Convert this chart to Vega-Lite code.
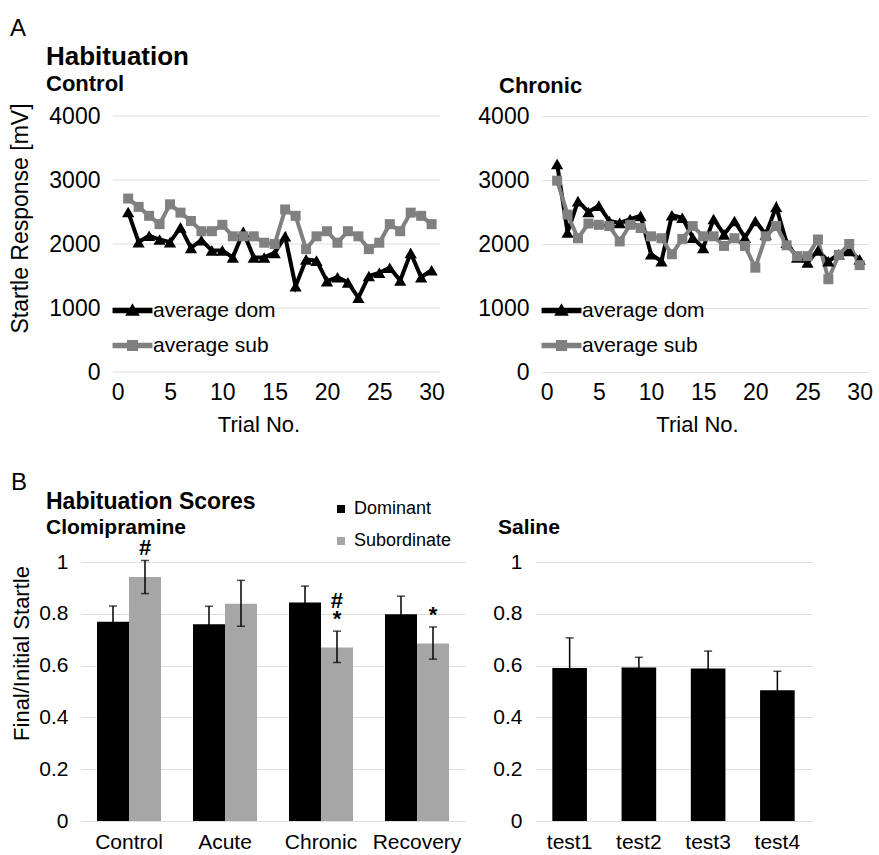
{
  "$schema": "https://vega.github.io/schema/vega-lite/v6.json",
  "background": "white",
  "padding": {"left": 9, "top": 16, "right": 5, "bottom": 5},
  "config": {
    "font": "Liberation Sans",
    "view": {"stroke": null},
    "axis": {
      "labelFont": "Liberation Sans",
      "titleFont": "Liberation Sans",
      "labelColor": "#000",
      "titleColor": "#000",
      "titleFontWeight": "normal",
      "domain": false,
      "ticks": false,
      "gridColor": "#dedede",
      "gridWidth": 1
    },
    "title": {"font": "Liberation Sans", "color": "#000", "subtitleColor": "#000", "subtitleFont": "Liberation Sans", "anchor": "start"},
    "legend": {"labelFont": "Liberation Sans", "labelColor": "#000"}
  },
  "datasets": {
    "gridlines": [{"g": 0}, {"g": 1000}, {"g": 2000}, {"g": 3000}, {"g": 4000}],
    "control": [
      {"trial": 1, "series": "average dom", "value": 2500}, {"trial": 2, "series": "average dom", "value": 2030},
      {"trial": 3, "series": "average dom", "value": 2130}, {"trial": 4, "series": "average dom", "value": 2070},
      {"trial": 5, "series": "average dom", "value": 2030}, {"trial": 6, "series": "average dom", "value": 2260},
      {"trial": 7, "series": "average dom", "value": 1940}, {"trial": 8, "series": "average dom", "value": 2060},
      {"trial": 9, "series": "average dom", "value": 1900}, {"trial": 10, "series": "average dom", "value": 1900},
      {"trial": 11, "series": "average dom", "value": 1790}, {"trial": 12, "series": "average dom", "value": 2190},
      {"trial": 13, "series": "average dom", "value": 1790}, {"trial": 14, "series": "average dom", "value": 1790},
      {"trial": 15, "series": "average dom", "value": 1860}, {"trial": 16, "series": "average dom", "value": 2120},
      {"trial": 17, "series": "average dom", "value": 1340}, {"trial": 18, "series": "average dom", "value": 1760},
      {"trial": 19, "series": "average dom", "value": 1740}, {"trial": 20, "series": "average dom", "value": 1420},
      {"trial": 21, "series": "average dom", "value": 1480}, {"trial": 22, "series": "average dom", "value": 1400},
      {"trial": 23, "series": "average dom", "value": 1160}, {"trial": 24, "series": "average dom", "value": 1500},
      {"trial": 25, "series": "average dom", "value": 1550}, {"trial": 26, "series": "average dom", "value": 1630},
      {"trial": 27, "series": "average dom", "value": 1430}, {"trial": 28, "series": "average dom", "value": 1860},
      {"trial": 29, "series": "average dom", "value": 1480}, {"trial": 30, "series": "average dom", "value": 1590},
      {"trial": 1, "series": "average sub", "value": 2710}, {"trial": 2, "series": "average sub", "value": 2580},
      {"trial": 3, "series": "average sub", "value": 2440}, {"trial": 4, "series": "average sub", "value": 2310},
      {"trial": 5, "series": "average sub", "value": 2620}, {"trial": 6, "series": "average sub", "value": 2490},
      {"trial": 7, "series": "average sub", "value": 2360}, {"trial": 8, "series": "average sub", "value": 2200},
      {"trial": 9, "series": "average sub", "value": 2200}, {"trial": 10, "series": "average sub", "value": 2300},
      {"trial": 11, "series": "average sub", "value": 2120}, {"trial": 12, "series": "average sub", "value": 2120},
      {"trial": 13, "series": "average sub", "value": 2120}, {"trial": 14, "series": "average sub", "value": 2020},
      {"trial": 15, "series": "average sub", "value": 2000}, {"trial": 16, "series": "average sub", "value": 2540},
      {"trial": 17, "series": "average sub", "value": 2440}, {"trial": 18, "series": "average sub", "value": 1920},
      {"trial": 19, "series": "average sub", "value": 2120}, {"trial": 20, "series": "average sub", "value": 2200},
      {"trial": 21, "series": "average sub", "value": 2020}, {"trial": 22, "series": "average sub", "value": 2200},
      {"trial": 23, "series": "average sub", "value": 2120}, {"trial": 24, "series": "average sub", "value": 1920},
      {"trial": 25, "series": "average sub", "value": 2020}, {"trial": 26, "series": "average sub", "value": 2310},
      {"trial": 27, "series": "average sub", "value": 2200}, {"trial": 28, "series": "average sub", "value": 2490},
      {"trial": 29, "series": "average sub", "value": 2440}, {"trial": 30, "series": "average sub", "value": 2310}
    ],
    "chronic": [
      {"trial": 1, "series": "average dom", "value": 3250}, {"trial": 2, "series": "average dom", "value": 2180},
      {"trial": 3, "series": "average dom", "value": 2670}, {"trial": 4, "series": "average dom", "value": 2500},
      {"trial": 5, "series": "average dom", "value": 2600}, {"trial": 6, "series": "average dom", "value": 2360},
      {"trial": 7, "series": "average dom", "value": 2330}, {"trial": 8, "series": "average dom", "value": 2390},
      {"trial": 9, "series": "average dom", "value": 2440}, {"trial": 10, "series": "average dom", "value": 1840},
      {"trial": 11, "series": "average dom", "value": 1730}, {"trial": 12, "series": "average dom", "value": 2450},
      {"trial": 13, "series": "average dom", "value": 2410}, {"trial": 14, "series": "average dom", "value": 2100},
      {"trial": 15, "series": "average dom", "value": 1940}, {"trial": 16, "series": "average dom", "value": 2390},
      {"trial": 17, "series": "average dom", "value": 2150}, {"trial": 18, "series": "average dom", "value": 2360},
      {"trial": 19, "series": "average dom", "value": 2100}, {"trial": 20, "series": "average dom", "value": 2360},
      {"trial": 21, "series": "average dom", "value": 2150}, {"trial": 22, "series": "average dom", "value": 2580},
      {"trial": 23, "series": "average dom", "value": 2020}, {"trial": 24, "series": "average dom", "value": 1790},
      {"trial": 25, "series": "average dom", "value": 1710}, {"trial": 26, "series": "average dom", "value": 1900},
      {"trial": 27, "series": "average dom", "value": 1730}, {"trial": 28, "series": "average dom", "value": 1840},
      {"trial": 29, "series": "average dom", "value": 1890}, {"trial": 30, "series": "average dom", "value": 1760},
      {"trial": 1, "series": "average sub", "value": 2990}, {"trial": 2, "series": "average sub", "value": 2460},
      {"trial": 3, "series": "average sub", "value": 2090}, {"trial": 4, "series": "average sub", "value": 2320},
      {"trial": 5, "series": "average sub", "value": 2300}, {"trial": 6, "series": "average sub", "value": 2280},
      {"trial": 7, "series": "average sub", "value": 2040}, {"trial": 8, "series": "average sub", "value": 2300},
      {"trial": 9, "series": "average sub", "value": 2250}, {"trial": 10, "series": "average sub", "value": 2120},
      {"trial": 11, "series": "average sub", "value": 2090}, {"trial": 12, "series": "average sub", "value": 1840},
      {"trial": 13, "series": "average sub", "value": 2080}, {"trial": 14, "series": "average sub", "value": 2280},
      {"trial": 15, "series": "average sub", "value": 2120}, {"trial": 16, "series": "average sub", "value": 2120},
      {"trial": 17, "series": "average sub", "value": 1970}, {"trial": 18, "series": "average sub", "value": 2090},
      {"trial": 19, "series": "average sub", "value": 1970}, {"trial": 20, "series": "average sub", "value": 1630},
      {"trial": 21, "series": "average sub", "value": 2120}, {"trial": 22, "series": "average sub", "value": 2280},
      {"trial": 23, "series": "average sub", "value": 1980}, {"trial": 24, "series": "average sub", "value": 1810},
      {"trial": 25, "series": "average sub", "value": 1810}, {"trial": 26, "series": "average sub", "value": 2070},
      {"trial": 27, "series": "average sub", "value": 1450}, {"trial": 28, "series": "average sub", "value": 1830},
      {"trial": 29, "series": "average sub", "value": 2000}, {"trial": 30, "series": "average sub", "value": 1670}
    ],
    "clomipramine": [
      {"group": "Control", "status": "Dominant", "mean": 0.769, "lo": 0.711, "hi": 0.830, "sig": ""},
      {"group": "Control", "status": "Subordinate", "mean": 0.942, "lo": 0.878, "hi": 1.006, "sig": "#"},
      {"group": "Acute", "status": "Dominant", "mean": 0.760, "lo": 0.692, "hi": 0.829, "sig": ""},
      {"group": "Acute", "status": "Subordinate", "mean": 0.839, "lo": 0.752, "hi": 0.929, "sig": ""},
      {"group": "Chronic", "status": "Dominant", "mean": 0.844, "lo": 0.784, "hi": 0.907, "sig": ""},
      {"group": "Chronic", "status": "Subordinate", "mean": 0.670, "lo": 0.612, "hi": 0.733, "sig": "#\n*"},
      {"group": "Recovery", "status": "Dominant", "mean": 0.798, "lo": 0.729, "hi": 0.868, "sig": ""},
      {"group": "Recovery", "status": "Subordinate", "mean": 0.685, "lo": 0.625, "hi": 0.749, "sig": "*"}
    ],
    "saline": [
      {"test": "test1", "mean": 0.591, "lo": 0.479, "hi": 0.707},
      {"test": "test2", "mean": 0.593, "lo": 0.557, "hi": 0.632},
      {"test": "test3", "mean": 0.589, "lo": 0.524, "hi": 0.656},
      {"test": "test4", "mean": 0.505, "lo": 0.437, "hi": 0.578}
    ]
  },
  "spacing": 36,
  "resolve": {"scale": {"color": "independent"}, "legend": {"color": "independent"}},
  "vconcat": [
    {
      "title": {"text": "A", "fontSize": 24, "fontWeight": "normal", "frame": "bounds", "offset": 3, "dx": 1},
      "spacing": 32,
      "resolve": {"scale": {"color": "independent"}, "legend": {"color": "independent"}},
      "hconcat": [
        {
          "width": 359,
          "height": 256,
          "title": {"text": "Habituation", "subtitle": "Control", "fontSize": 26, "fontWeight": "bold", "subtitleFontSize": 22, "subtitleFontWeight": "bold", "subtitlePadding": 4, "frame": "group", "dx": -35, "offset": 8},
          "layer": [
            {
              "data": {"name": "gridlines"},
              "mark": {"type": "rule", "color": "#dedede", "strokeWidth": 1},
              "encoding": {
                "y": {"field": "g", "type": "quantitative"},
                "x": {"datum": -0.45, "type": "quantitative"},
                "x2": {"datum": 30.8}
              }
            },
            {
              "data": {"name": "control"},
              "mark": {"type": "line", "strokeWidth": 4},
              "encoding": {
                "x": {"field": "trial", "type": "quantitative", "scale": {"domain": [-0.45, 30.8], "range": [32, 359], "nice": false, "zero": false},
                      "axis": {"values": [0, 5, 10, 15, 20, 25, 30], "title": "Trial No.", "grid": false, "labelFontSize": 23, "titleFontSize": 22, "labelPadding": 9, "labelFlush": false,
                               "titleX": 177.5, "titleY": 52, "titleAlign": "center", "titleBaseline": "middle"}},
                "y": {"field": "value", "type": "quantitative", "scale": {"domain": [0, 4000], "nice": false},
                      "axis": {"values": [0, 1000, 2000, 3000, 4000], "format": "d", "grid": false, "offset": -32, "title": "Startle Response [mV]", "labelFontSize": 23, "titleFontSize": 23, "labelPadding": 13,
                               "titleX": -93, "titleY": 102, "titleAngle": 270, "titleAlign": "center", "titleBaseline": "middle"}},
                "color": {"field": "series", "type": "nominal", "scale": {"domain": ["average dom", "average sub"], "range": ["#000000", "#808080"]},
                          "legend": {"orient": "none", "legendX": 41, "legendY": 184, "title": null, "padding": 0, "symbolSize": 144, "labelFontSize": 21, "labelOffset": 10, "rowPadding": 13,
                                     "encode": {"symbols": {"update": {
                                       "shape": {"signal": "datum.value === 'average dom' ? 'M-3.2,-0.33H3.2V0.33H-3.2Z M0,-0.95L1,0.75H-1Z' : 'M-3.2,-0.33H3.2V0.33H-3.2Z M-0.8,-0.8H0.8V0.8H-0.8Z'"},
                                       "fill": {"signal": "datum.value === 'average dom' ? '#000000' : '#808080'"},
                                       "stroke": {"value": "transparent"},
                                       "opacity": {"value": 1},
                                       "fillOpacity": {"value": 1}}}}}}
              }
            },
            {
              "data": {"name": "control"},
              "mark": {"type": "point", "filled": true, "opacity": 1},
              "encoding": {
                "x": {"field": "trial", "type": "quantitative"},
                "y": {"field": "value", "type": "quantitative"},
                "color": {"field": "series", "type": "nominal"},
                "shape": {"field": "series", "type": "nominal", "scale": {"domain": ["average dom", "average sub"], "range": ["triangle-up", "square"]}, "legend": null},
                "size": {"field": "series", "type": "nominal", "scale": {"domain": ["average dom", "average sub"], "range": [150, 100]}, "legend": null}
              }
            }
          ]
        },
        {
          "width": 326,
          "height": 256,
          "title": {"text": " ", "subtitle": "Chronic", "fontSize": 26, "fontWeight": "bold", "subtitleFontSize": 22, "subtitleFontWeight": "bold", "subtitlePadding": 4, "frame": "group", "dx": -43, "offset": 8},
          "data": {"name": "chronic"},
          "encoding": {
            "x": {"field": "trial", "type": "quantitative", "scale": {"domain": [-0.45, 30.8], "nice": false, "zero": false},
                  "axis": {"values": [0, 5, 10, 15, 20, 25, 30], "title": "Trial No.", "grid": false, "labelFontSize": 23, "titleFontSize": 22, "labelPadding": 9, "labelFlush": false,
                           "titleX": 155, "titleY": 52, "titleAlign": "center", "titleBaseline": "middle"}},
            "y": {"field": "value", "type": "quantitative", "scale": {"domain": [0, 4000], "nice": false},
                  "axis": {"values": [0, 1000, 2000, 3000, 4000], "format": "d", "title": null, "labelFontSize": 23, "labelPadding": 13}},
            "color": {"field": "series", "type": "nominal", "scale": {"domain": ["average dom", "average sub"], "range": ["#000000", "#808080"]},
                      "legend": {"orient": "none", "legendX": 9, "legendY": 184, "title": null, "padding": 0, "symbolSize": 144, "labelFontSize": 21, "labelOffset": 10, "rowPadding": 13,
                                 "encode": {"symbols": {"update": {
                                   "shape": {"signal": "datum.value === 'average dom' ? 'M-3.2,-0.33H3.2V0.33H-3.2Z M0,-0.95L1,0.75H-1Z' : 'M-3.2,-0.33H3.2V0.33H-3.2Z M-0.8,-0.8H0.8V0.8H-0.8Z'"},
                                   "fill": {"signal": "datum.value === 'average dom' ? '#000000' : '#808080'"},
                                   "stroke": {"value": "transparent"},
                                   "opacity": {"value": 1},
                                   "fillOpacity": {"value": 1}}}}}}
          },
          "layer": [
            {"mark": {"type": "line", "strokeWidth": 4}},
            {"mark": {"type": "point", "filled": true, "opacity": 1},
             "encoding": {
               "shape": {"field": "series", "type": "nominal", "scale": {"domain": ["average dom", "average sub"], "range": ["triangle-up", "square"]}, "legend": null},
               "size": {"field": "series", "type": "nominal", "scale": {"domain": ["average dom", "average sub"], "range": [150, 100]}, "legend": null}
             }}
          ]
        }
      ]
    },
    {
      "title": {"text": "B", "fontSize": 24, "fontWeight": "normal", "frame": "bounds", "offset": -4, "dx": 1},
      "spacing": 27,
      "resolve": {"scale": {"color": "independent"}, "legend": {"color": "independent"}},
      "hconcat": [
        {
          "width": 384,
          "height": 259,
          "title": {"text": "Habituation Scores", "subtitle": "Clomipramine", "fontSize": 23, "fontWeight": "bold", "subtitleFontSize": 21, "subtitleFontWeight": "bold", "subtitlePadding": 3, "frame": "group", "dx": -35, "offset": -38},
          "data": {"name": "clomipramine"},
          "encoding": {
            "x": {"field": "group", "type": "nominal", "sort": ["Control", "Acute", "Chronic", "Recovery"],
                  "scale": {"paddingInner": 0.3333, "paddingOuter": 0.1667},
                  "axis": {"title": null, "labelAngle": 0, "labelFontSize": 21, "labelPadding": 10}},
            "xOffset": {"field": "status", "type": "nominal", "sort": ["Dominant", "Subordinate"]}
          },
          "layer": [
            {
              "mark": {"type": "bar"},
              "encoding": {
                "y": {"field": "mean", "type": "quantitative", "scale": {"domain": [0, 1], "nice": false},
                      "axis": {"values": [0, 0.2, 0.4, 0.6, 0.8, 1], "format": "~g", "title": "Final/Initial Startle", "labelFontSize": 21, "titleFontSize": 22, "labelPadding": 13,
                               "titleX": -60, "titleY": 91, "titleAngle": 270, "titleAlign": "center", "titleBaseline": "middle"}},
                "color": {"field": "status", "type": "nominal", "scale": {"domain": ["Dominant", "Subordinate"], "range": ["#000000", "#a6a6a6"]},
                          "legend": {"orient": "none", "legendX": 251, "legendY": -62, "title": null, "padding": 0, "symbolType": "square", "symbolSize": 64, "symbolStrokeWidth": 0, "labelFontSize": 18, "labelOffset": 4, "rowPadding": 14}}
              }
            },
            {
              "mark": {"type": "rule", "color": "#000000", "strokeWidth": 1.5},
              "encoding": {"y": {"field": "lo", "type": "quantitative"}, "y2": {"field": "hi"}}
            },
            {
              "mark": {"type": "tick", "color": "#000000", "thickness": 1.5, "size": 8},
              "encoding": {"y": {"field": "lo", "type": "quantitative"}}
            },
            {
              "mark": {"type": "tick", "color": "#000000", "thickness": 1.5, "size": 8},
              "encoding": {"y": {"field": "hi", "type": "quantitative"}}
            },
            {
              "transform": [{"filter": "datum.sig !== '' && indexof(datum.sig, '\\n') < 0"}],
              "mark": {"type": "text", "baseline": "bottom", "fontSize": 22, "fontWeight": "bold", "color": "#000000"},
              "encoding": {"y": {"field": "hi", "type": "quantitative"}, "text": {"field": "sig"}}
            },
            {
              "transform": [{"filter": "indexof(datum.sig, '\\n') >= 0"}],
              "mark": {"type": "text", "baseline": "bottom", "fontSize": 22, "fontWeight": "bold", "lineBreak": "\n", "lineHeight": 18, "dy": -18, "color": "#000000"},
              "encoding": {"y": {"field": "hi", "type": "quantitative"}, "text": {"field": "sig"}}
            }
          ]
        },
        {
          "width": 277,
          "height": 259,
          "title": {"text": " ", "subtitle": "Saline", "fontSize": 23, "fontWeight": "bold", "subtitleFontSize": 21, "subtitleFontWeight": "bold", "subtitlePadding": 3, "frame": "group", "dx": -37, "offset": 13},
          "data": {"name": "saline"},
          "encoding": {
            "x": {"field": "test", "type": "nominal", "sort": ["test1", "test2", "test3", "test4"],
                  "scale": {"paddingInner": 0.5, "paddingOuter": 0.25},
                  "axis": {"title": null, "labelAngle": 0, "labelFontSize": 21, "labelPadding": 10}}
          },
          "layer": [
            {
              "mark": {"type": "bar", "color": "#000000"},
              "encoding": {
                "y": {"field": "mean", "type": "quantitative", "scale": {"domain": [0, 1], "nice": false},
                      "axis": {"values": [0, 0.2, 0.4, 0.6, 0.8, 1], "format": "~g", "title": null, "labelFontSize": 21, "labelPadding": 13}}
              }
            },
            {
              "mark": {"type": "rule", "color": "#000000", "strokeWidth": 1.5},
              "encoding": {"y": {"field": "lo", "type": "quantitative"}, "y2": {"field": "hi"}}
            },
            {
              "mark": {"type": "tick", "color": "#000000", "thickness": 1.5, "size": 8},
              "encoding": {"y": {"field": "lo", "type": "quantitative"}}
            },
            {
              "mark": {"type": "tick", "color": "#000000", "thickness": 1.5, "size": 8},
              "encoding": {"y": {"field": "hi", "type": "quantitative"}}
            }
          ]
        }
      ]
    }
  ]
}
